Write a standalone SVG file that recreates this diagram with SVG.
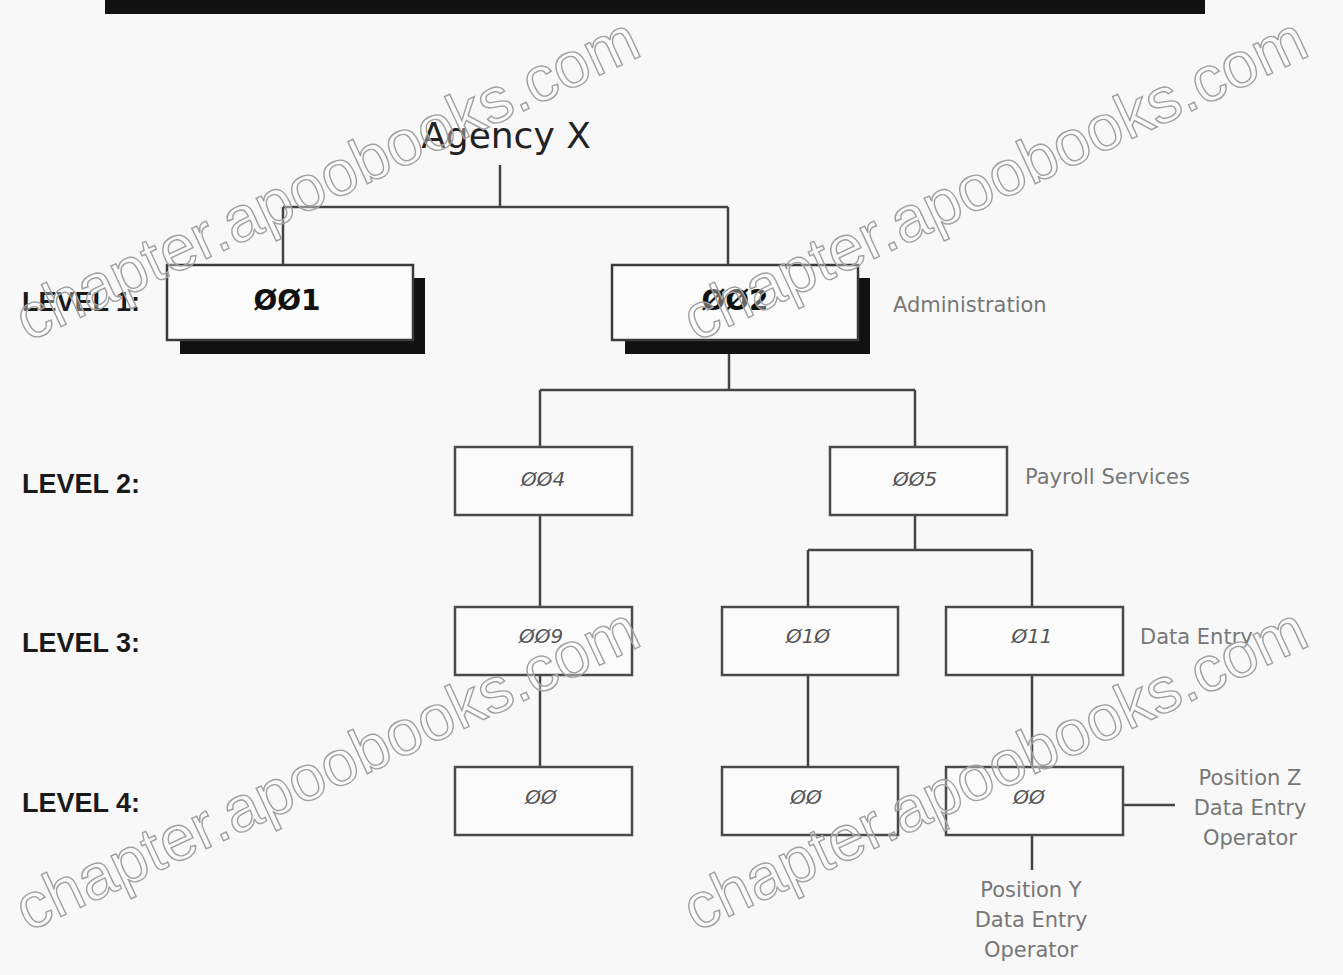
<svg xmlns="http://www.w3.org/2000/svg" width="1343" height="975" viewBox="0 0 1343 975">
<style>
.bg{fill:#f8f8f8}
.box{fill:#fbfbfb;stroke:#4a4a4a;stroke-width:2.5}
.l1{fill:#fbfbfb;stroke:#3a3a3a;stroke-width:2.5}
.sh{fill:#111}
.ln{stroke:#444;stroke-width:2.5;fill:none}
.lvl{font-family:"Liberation Sans",Arial,sans-serif;font-weight:bold;font-size:27px;fill:#1a1a1a}
.id1{font-family:"DejaVu Sans",sans-serif;font-weight:bold;font-size:28px;fill:#111;text-anchor:middle}
.id{font-family:"DejaVu Sans",sans-serif;font-style:italic;font-size:20px;fill:#555;text-anchor:middle}
.lab{font-family:"DejaVu Sans",sans-serif;font-size:21px;fill:#777}
.labc{font-family:"DejaVu Sans",sans-serif;font-size:21px;fill:#777;text-anchor:middle}
.title{font-family:"DejaVu Sans",sans-serif;font-size:36px;fill:#222;text-anchor:middle}
.wm{font-family:"Liberation Sans",Arial,sans-serif;font-size:64px;fill:#ffffff;fill-opacity:0.35;stroke:#a0a0a0;stroke-width:1.4}
</style>
<rect class="bg" x="0" y="0" width="1343" height="975"/>
<g id="topbar">
<rect x="105" y="0" width="1100" height="14" fill="#111"/>
</g>
<g id="connectors">
<path class="ln" d="M500 165 V207 M283 207 H728 M283 207 V265 M728 207 V265"/>
<path class="ln" d="M729 353 V390 M540 390 H915 M540 390 V447 M915 390 V447"/>
<path class="ln" d="M540 515 V607 M915 515 V550 M808 550 H1032 M808 550 V607 M1032 550 V607"/>
<path class="ln" d="M540 675 V767 M808 675 V767 M1032 675 V767"/>
<path class="ln" d="M1123 805 H1175 M1032 835 V870"/>
</g>
<g id="agency"><text class="title" x="506" y="148">Agency X</text></g>
<g id="levels">
<text class="lvl" x="22" y="311">LEVEL 1:</text>
<text class="lvl" x="22" y="493">LEVEL 2:</text>
<text class="lvl" x="22" y="652">LEVEL 3:</text>
<text class="lvl" x="22" y="812">LEVEL 4:</text>
</g>
<g id="n001">
<rect class="sh" x="180" y="340" width="245" height="14"/>
<rect class="sh" x="413" y="278" width="12" height="76"/>
<rect class="l1" x="167" y="265" width="246" height="75"/>
<text class="id1" x="287" y="310">ØØ1</text>
</g>
<g id="n002">
<rect class="sh" x="625" y="340" width="245" height="14"/>
<rect class="sh" x="858" y="278" width="12" height="76"/>
<rect class="l1" x="612" y="265" width="246" height="75"/>
<text class="id1" x="735" y="310">ØØ2</text>
<text class="lab" x="893" y="312">Administration</text>
</g>
<g id="n004"><rect class="box" x="455" y="447" width="177" height="68"/><text class="id" x="543" y="486">ØØ4</text></g>
<g id="n005"><rect class="box" x="830" y="447" width="177" height="68"/><text class="id" x="915" y="486">ØØ5</text><text class="lab" x="1025" y="484">Payroll Services</text></g>
<g id="n009"><rect class="box" x="455" y="607" width="177" height="68"/><text class="id" x="541" y="643">ØØ9</text></g>
<g id="n010"><rect class="box" x="722" y="607" width="176" height="68"/><text class="id" x="808" y="643">Ø1Ø</text></g>
<g id="n011"><rect class="box" x="946" y="607" width="177" height="68"/><text class="id" x="1032" y="643">Ø11</text><text class="lab" x="1140" y="644">Data Entry</text></g>
<g id="n4a"><rect class="box" x="455" y="767" width="177" height="68"/><text class="id" x="541" y="804">ØØ</text></g>
<g id="n4b"><rect class="box" x="722" y="767" width="176" height="68"/><text class="id" x="806" y="804">ØØ</text></g>
<g id="n4c"><rect class="box" x="946" y="767" width="177" height="68"/><text class="id" x="1029" y="804">ØØ</text></g>
<g id="posZ">
<text class="labc" x="1250" y="785">Position Z</text>
<text class="labc" x="1250" y="815">Data Entry</text>
<text class="labc" x="1250" y="845">Operator</text>
</g>
<g id="posY">
<text class="labc" x="1031" y="897">Position Y</text>
<text class="labc" x="1031" y="927">Data Entry</text>
<text class="labc" x="1031" y="957">Operator</text>
</g>
<g id="watermarks">
<text class="wm" transform="translate(28 342) rotate(-25)">chapter.apoobooks.com</text>
<text class="wm" transform="translate(696 342) rotate(-25)">chapter.apoobooks.com</text>
<text class="wm" transform="translate(28 932) rotate(-25)">chapter.apoobooks.com</text>
<text class="wm" transform="translate(696 932) rotate(-25)">chapter.apoobooks.com</text>
</g>
</svg>
